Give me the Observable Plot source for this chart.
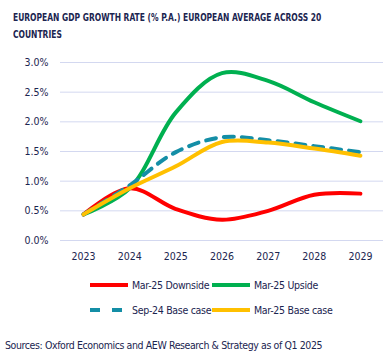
<!DOCTYPE html>
<html>
<head>
<meta charset="utf-8">
<script src="https://cdn.jsdelivr.net/npm/d3@7"></script>
<script src="https://cdn.jsdelivr.net/npm/@observablehq/plot@0.6"></script>
<style>
  html, body { margin: 0; padding: 0; background: #fff; }
  body { width: 390px; height: 358px; overflow: hidden; position: relative; font-family: "DejaVu Sans Condensed", "DejaVu Sans", sans-serif; color: #1b2550; }
  #title { position: absolute; left: 13px; top: 9px; width: 440px; font-size: 10.5px; font-weight: bold; line-height: 17px; transform: scaleX(0.8); transform-origin: 0 0; }
  #chart { position: absolute; left: 0; top: 44px; }
  #legend { position: absolute; left: 90px; top: 272px; font-size: 10.5px; letter-spacing: -0.3px; }
  .row { display: flex; height: 25px; align-items: center; }
  .item { display: flex; align-items: center; width: 122px; white-space: nowrap; }
  .item svg { margin-right: 4px; flex: none; }
  #source { position: absolute; left: 5px; top: 339px; font-size: 10.5px; letter-spacing: -0.4px; white-space: nowrap; }
</style>
</head>
<body>
<div id="title">EUROPEAN GDP GROWTH RATE (% P.A.) EUROPEAN AVERAGE ACROSS 20<br>COUNTRIES</div>
<div id="chart"></div>
<div id="legend"></div>
<div id="source">Sources: Oxford Economics and AEW Research &amp; Strategy as of Q1 2025</div>
<script>
const years = [2023, 2024, 2025, 2026, 2027, 2028, 2029];
const seriesNames = ["Mar-25 Downside", "Mar-25 Upside", "Sep-24 Base case", "Mar-25 Base case"];
const downside = [0.44, 0.88, 0.53, 0.35, 0.50, 0.77, 0.79];
const upside   = [0.44, 0.88, 2.16, 2.82, 2.69, 2.33, 2.01];
const sep24    = [0.44, 0.93, 1.49, 1.74, 1.69, 1.59, 1.49];
const mar25    = [0.44, 0.88, 1.25, 1.66, 1.65, 1.55, 1.43];
const yTicks = [0, 0.5, 1.0, 1.5, 2.0, 2.5, 3.0];

const colors = {"Mar-25 Downside": "#ff0000", "Mar-25 Upside": "#00b050", "Sep-24 Base case": "#148ea6", "Mar-25 Base case": "#ffc000"};
const dashes = {"Sep-24 Base case": "10,8"};
const valuesBySeries = [downside, upside, sep24, mar25];

const data = [];
seriesNames.forEach((s, i) => years.forEach((y, j) => data.push({series: s, year: y, value: valuesBySeries[i][j]})));

const navy = "#1b2550";
const marks = [
  Plot.ruleY(yTicks, {stroke: "#d3d8f0", strokeWidth: 1}),
  Plot.axisY({ticks: yTicks, tickSize: 0, tickPadding: 12, label: null, tickFormat: d => d.toFixed(1) + "%", fontSize: 10.5, fill: navy}),
  Plot.axisX({ticks: years, tickSize: 0, tickPadding: 12, label: null, tickFormat: d => String(d), fontSize: 10.5, fill: navy})
];
seriesNames.forEach(s => {
  marks.push(Plot.line(data.filter(d => d.series === s), {
    x: "year", y: "value", stroke: colors[s], strokeWidth: 4,
    strokeDasharray: dashes[s] || null, curve: "catmull-rom"
  }));
});

const chart = Plot.plot({
  width: 390,
  height: 225,
  marginLeft: 60,
  marginRight: 7,
  marginTop: 18,
  marginBottom: 29,
  style: {fontFamily: '"DejaVu Sans Condensed", "DejaVu Sans", sans-serif', color: navy, background: "white"},
  x: {domain: [2022.5, 2029.5], label: null},
  y: {domain: [0, 3], label: null},
  marks
});
document.getElementById("chart").appendChild(chart);

const legend = document.getElementById("legend");
const rows = [[seriesNames[0], seriesNames[1]], [seriesNames[2], seriesNames[3]]];
rows.forEach(r => {
  const row = document.createElement("div");
  row.className = "row";
  r.forEach(s => {
    const item = document.createElement("div");
    item.className = "item";
    const dash = dashes[s] ? `stroke-dasharray="10,12"` : "";
    item.innerHTML = `<svg width="38" height="6"><line x1="0" y1="3" x2="38" y2="3" stroke="${colors[s]}" stroke-width="4" ${dash}/></svg><span>${s}</span>`;
    row.appendChild(item);
  });
  legend.appendChild(row);
});
</script>
</body>
</html>
